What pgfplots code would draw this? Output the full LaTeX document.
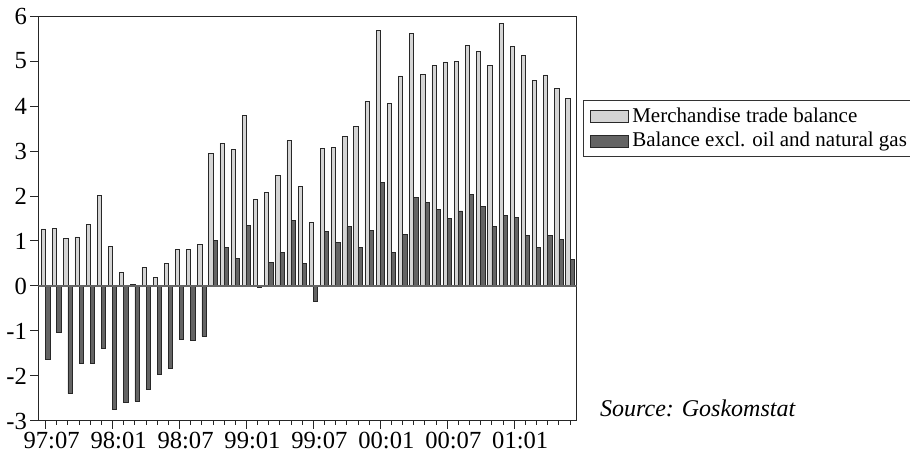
\documentclass[border=0pt]{standalone}
\usepackage{pgfplots}
\pgfplotsset{compat=1.18}
\usepackage{fontspec}
\setmainfont{Liberation Serif}
\definecolor{lightbar}{RGB}{212,212,212}
\definecolor{darkbar}{RGB}{100,100,100}
\definecolor{edge}{RGB}{40,40,40}
\begin{document}
\begin{tikzpicture}
\path[use as bounding box] (-19.15pt,-19pt) rectangle (435.85pt,210.5pt);
\begin{axis}[
  at={(0,0)}, anchor=south west,
  scale only axis,
  width=269.2pt, height=202.5pt,
  xmin=-0.66, xmax=47.6,
  ymin=-3, ymax=6,
  axis line style={line width=0.5pt, black!85},
  ytick={-3,-2,-1,0,1,2,3,4,5,6},
  yticklabels={-3,-2,-1,0,1,2,3,4,5,6},
  xtick={0,6,12,18,24,30,36,42},
  xticklabels={97:07,98:01,98:07,99:01,99:07,00:01,00:07,01:01},
  minor xtick={0,1,...,47},
  tick align=outside,
  xtick pos=lower, ytick pos=left,
  major tick length=4pt,
  minor tick length=1.8pt,
  tick style={line width=0.5pt, black!85},
  xticklabel style={font=\fontsize{12.3}{14}\selectfont, xshift=3pt, yshift=1.8pt},
  yticklabel style={font=\fontsize{12.3}{14}\selectfont, xshift=1.8pt},
  ybar, bar width=2.1pt,
  legend style={at={(1,1)}, anchor=north west, xshift=3.2pt, yshift=-42pt,
    draw=black!80, line width=0.5pt, font=\fontsize{10.5}{12}\selectfont,
    inner xsep=3pt, inner ysep=1.5pt, row sep=-0.5pt},
  legend cell align=left,
  legend image code/.code={\draw[#1] (0pt,-3pt) rectangle (19pt,3pt);},
]
\addplot[fill=lightbar, draw=edge, line width=0.35pt, bar shift=-1.05pt] coordinates {
(0,1.27) (1,1.28) (2,1.05) (3,1.09) (4,1.37) (5,2.01) (6,0.88) (7,0.30)
(8,0.04) (9,0.42) (10,0.19) (11,0.50) (12,0.82) (13,0.82) (14,0.93) (15,2.95)
(16,3.17) (17,3.03) (18,3.80) (19,1.92) (20,2.08) (21,2.46) (22,3.23) (23,2.21)
(24,1.41) (25,3.06) (26,3.08) (27,3.32) (28,3.54) (29,4.10) (30,5.68) (31,4.06)
(32,4.67) (33,5.62) (34,4.71) (35,4.90) (36,4.98) (37,4.99) (38,5.35) (39,5.22)
(40,4.90) (41,5.84) (42,5.32) (43,5.12) (44,4.57) (45,4.69) (46,4.39) (47,4.16)};
\addlegendentry{Merchandise trade balance}
\addplot[fill=darkbar, draw=edge, line width=0.35pt, bar shift=1.05pt] coordinates {
(0,-1.62) (1,-1.03) (2,-2.39) (3,-1.72) (4,-1.72) (5,-1.38) (6,-2.74) (7,-2.58)
(8,-2.56) (9,-2.30) (10,-1.97) (11,-1.84) (12,-1.19) (13,-1.21) (14,-1.12) (15,1.01)
(16,0.86) (17,0.62) (18,1.34) (19,-0.04) (20,0.53) (21,0.74) (22,1.46) (23,0.51)
(24,-0.35) (25,1.22) (26,0.96) (27,1.32) (28,0.86) (29,1.23) (30,2.31) (31,0.74)
(32,1.14) (33,1.97) (34,1.85) (35,1.71) (36,1.50) (37,1.67) (38,2.04) (39,1.77)
(40,1.32) (41,1.56) (42,1.53) (43,1.12) (44,0.85) (45,1.12) (46,1.03) (47,0.59)};
\addlegendentry{Balance excl. oil and natural gas}
\draw[black!60, line width=0.6pt] (axis cs:-0.66,0) -- (axis cs:47.6,0);
\coordinate (srcpos) at (rel axis cs:1,0);
\end{axis}
\node[anchor=base west, font=\fontsize{12}{14}\selectfont\itshape] at ([xshift=8.2pt,yshift=2pt]srcpos) {Source: Goskomstat};
\end{tikzpicture}
\end{document}
